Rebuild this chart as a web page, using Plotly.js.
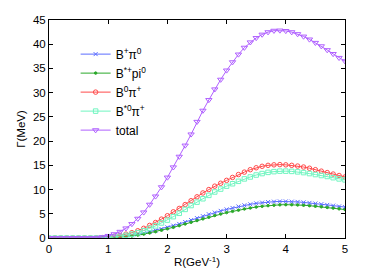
<!DOCTYPE html>
<html>
<head>
<meta charset="utf-8">
<script src="https://cdn.plot.ly/plotly-3.0.1.min.js"></script>
<style>html,body{margin:0;padding:0;background:#fff;}#chart{width:382px;height:273px;}</style>
</head>
<body>
<div id="chart"></div>
<script>
const R = [0,0.1,0.2,0.3,0.4,0.5,0.6,0.7,0.8,0.9,1.0,1.1,1.2,1.3,1.4,1.5,1.6,1.7,1.8,1.9,2.0,2.1,2.2,2.3,2.4,2.5,2.6,2.7,2.8,2.9,3.0,3.1,3.2,3.3,3.4,3.5,3.6,3.7,3.8,3.9,4.0,4.1,4.2,4.3,4.4,4.5,4.6,4.7,4.8,4.9,5.0];
const BplusPi0 = [0,0,0,0,0,0,0,0,0.01,0.03,0.08,0.15,0.25,0.38,0.55,0.75,1.0,1.3,1.55,1.85,2.2,2.55,2.9,3.3,3.7,4.1,4.5,4.9,5.25,5.6,5.9,6.2,6.5,6.75,6.95,7.15,7.3,7.42,7.5,7.55,7.55,7.5,7.45,7.35,7.25,7.12,6.98,6.83,6.68,6.52,6.38];
const BstarPlusPi0 = [0,0,0,0,0,0,0,0,0,0.02,0.05,0.1,0.18,0.28,0.42,0.6,0.8,1.05,1.3,1.6,1.9,2.2,2.55,2.9,3.25,3.6,3.95,4.3,4.65,4.95,5.25,5.5,5.75,6.0,6.2,6.4,6.55,6.68,6.78,6.85,6.88,6.87,6.83,6.76,6.67,6.56,6.44,6.31,6.17,6.02,5.87];
const B0PiPlus = [0,0,0,0,0,0,0,0,0.02,0.08,0.2,0.35,0.55,0.8,1.1,1.5,2.0,2.6,3.2,3.9,4.6,5.4,6.1,6.9,7.7,8.5,9.3,10.0,10.7,11.3,11.9,12.5,13.1,13.6,14.1,14.5,14.8,15.0,15.1,15.15,15.1,15.0,14.85,14.65,14.4,14.1,13.8,13.5,13.2,12.9,12.6];
const Bstar0PiPlus = [0,0,0,0,0,0,0,0,0,0.03,0.1,0.2,0.35,0.55,0.8,1.1,1.5,2.0,2.5,3.1,3.7,4.4,5.1,5.9,6.7,7.4,8.1,8.8,9.5,10.1,10.7,11.2,11.7,12.2,12.6,13.0,13.3,13.55,13.7,13.8,13.8,13.75,13.65,13.5,13.3,13.1,12.9,12.7,12.45,12.2,12.0];
const total = [0,0,0,0,0,0,0,0,0.05,0.2,0.45,0.8,1.3,2.0,2.9,4.0,5.3,6.9,8.6,10.5,12.5,14.6,16.8,19.1,21.4,24.0,26.3,28.5,30.7,32.7,34.6,36.3,37.9,39.3,40.4,41.3,42.0,42.5,42.8,42.85,42.75,42.5,42.1,41.6,41.0,40.3,39.6,38.8,38.0,37.2,36.5];
const names = ['B<sup>+</sup>π<sup>0</sup>','B<sup>*+</sup>pi<sup>0</sup>','B<sup>0</sup>π<sup>+</sup>','B<sup>*0</sup>π<sup>+</sup>','total'];
const xTicks = [0,1,2,3,4,5];
const yTicks = [0,5,10,15,20,25,30,35,40,45];

const series = [BplusPi0, BstarPlusPi0, B0PiPlus, Bstar0PiPlus, total];
const colors = ['#5a6cff','#2aa82a','#ff4a4a','#70f5c0','#b060ff'];
const symbols = ['x-thin-open','circle','circle-open','square-open','triangle-down-open'];
const sizes = [4,2.5,4.5,4.5,5.5];
const font = 'Liberation Sans, Arial, sans-serif';
const traces = series.map((s,i)=>({
  x: R, y: s, name: names[i], type:'scatter', mode:'lines+markers',
  line:{color:colors[i], width:1},
  marker:{symbol:symbols[i], size:sizes[i], color:colors[i], line:{color:colors[i], width:1}}
}));
const axisCommon = {showgrid:false, zeroline:false, showline:true, linecolor:'#000', linewidth:1, mirror:'ticks', ticks:'inside', ticklen:4, tickcolor:'#000', tickfont:{family:font, size:11.5, color:'#000'}};
const layout = {
  width:382, height:273,
  margin:{l:49, r:36.5, t:20, b:34.5},
  paper_bgcolor:'#fff', plot_bgcolor:'#fff',
  showlegend:true,
  legend:{x:0.09, y:0.91, xanchor:'left', yanchor:'top', bgcolor:'rgba(0,0,0,0)', font:{family:font, size:12, color:'#000'}, tracegroupgap:0},
  xaxis:Object.assign({}, axisCommon, {range:[0,5], tickvals:xTicks, ticktext:xTicks.map(String), title:{text:'R(GeV<sup>-1</sup>)', font:{family:font, size:11.5, color:'#000'}, standoff:4}}),
  yaxis:Object.assign({}, axisCommon, {range:[0,45], tickvals:yTicks, ticktext:yTicks.map(String), title:{text:'Γ(MeV)', font:{family:font, size:11.5, color:'#000'}, standoff:4}})
};
Plotly.newPlot('chart', traces, layout, {displayModeBar:false, staticPlot:true});
</script>
</body>
</html>
